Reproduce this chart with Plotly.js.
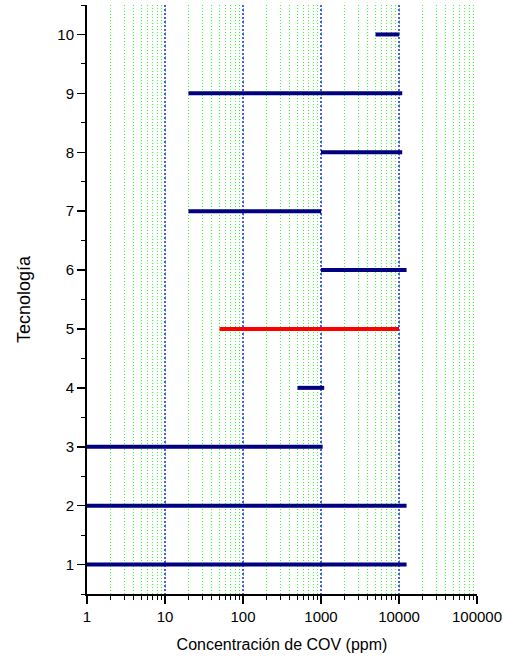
<!DOCTYPE html>
<html>
<head>
<meta charset="utf-8">
<script src="https://cdn.plot.ly/plotly-3.0.1.min.js"></script>
<style>
  html, body { margin: 0; padding: 0; background: #fff; }
  #chart { width: 507px; height: 659px; }
</style>
</head>
<body>
<div id="chart"></div>
<script>
// Concentration range (ppm) covered by each VOC treatment technology
const tecnologias = [1, 2, 3, 4, 5, 6, 7, 8, 9, 10];
const limiteInferior = [1, 1, 1, 500, 50, 1000, 20, 1000, 20, 5000];
const limiteSuperior = [12500, 12500, 1050, 1100, 10000, 12500, 1000, 11000, 11000, 10000];
const coloresTecnologia = ['#000080', '#000080', '#000080', '#000080', '#ff0000',
                           '#000080', '#000080', '#000080', '#000080', '#000080'];
const xTickVals = [1, 10, 100, 1000, 10000, 100000];
const xTickText = ['1', '10', '100', '1000', '10000', '100000'];
const yTickVals = [1, 2, 3, 4, 5, 6, 7, 8, 9, 10];

const FONT = '"Liberation Sans", Arial, sans-serif';

const traces = tecnologias.map((t, i) => ({
  type: 'scatter',
  mode: 'lines',
  x: [limiteInferior[i], limiteSuperior[i]],
  y: [t, t],
  line: { color: coloresTecnologia[i], width: 4 },
  hoverinfo: 'x+y',
  showlegend: false
}));

const layout = {
  width: 507,
  height: 659,
  margin: { l: 87, r: 30, t: 5, b: 65 },
  paper_bgcolor: '#ffffff',
  plot_bgcolor: '#ffffff',
  font: { family: FONT, size: 15, color: '#000' },
  showlegend: false,
  xaxis: {
    type: 'log',
    range: [0, 5],
    tickmode: 'array',
    tickvals: xTickVals,
    ticktext: xTickText,
    ticks: 'outside',
    ticklen: 8,
    tickwidth: 1.5,
    tickcolor: '#000',
    showline: true,
    linecolor: '#000',
    linewidth: 2,
    showgrid: true,
    gridcolor: '#5555ff',
    gridwidth: 1.2,
    griddash: '2px,2px',
    zeroline: false,
    minor: {
      dtick: 'D1',
      ticks: 'outside',
      ticklen: 4,
      tickwidth: 1,
      tickcolor: '#000',
      showgrid: true,
      gridcolor: '#33ff33',
      gridwidth: 1,
      griddash: '1px,2px'
    },
    tickfont: { family: FONT, size: 15 },
    title: { text: 'Concentración de COV (ppm)', font: { family: FONT, size: 16 }, standoff: 15 }
  },
  yaxis: {
    range: [0.5, 10.5],
    tickmode: 'array',
    tickvals: yTickVals,
    ticks: 'outside',
    ticklen: 8,
    tickwidth: 1.5,
    tickcolor: '#000',
    showline: true,
    linecolor: '#000',
    linewidth: 2,
    showgrid: false,
    zeroline: false,
    minor: { dtick: 0.5, ticks: 'outside', ticklen: 4, tickwidth: 1, tickcolor: '#000', showgrid: false },
    tickfont: { family: FONT, size: 15 },
    title: { text: 'Tecnología', font: { family: FONT, size: 18 }, standoff: 22 }
  }
};

Plotly.newPlot('chart', traces, layout, { displayModeBar: false, staticPlot: true });
</script>
</body>
</html>
